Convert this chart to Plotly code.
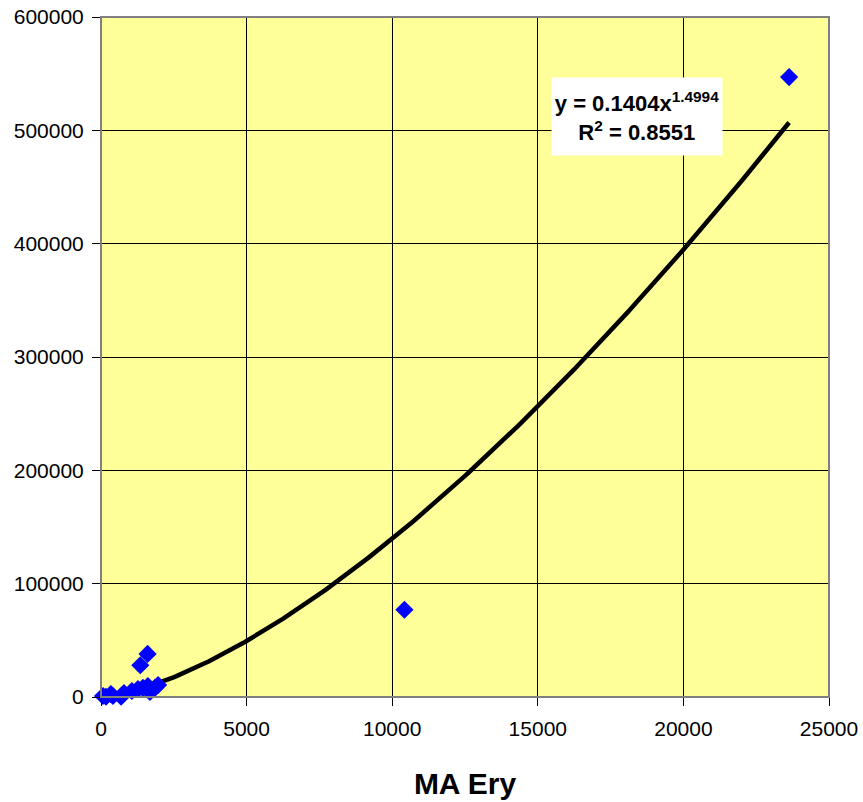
import numpy as np
import plotly.graph_objects as go

# Observations: MA Ery vs response
ma_ery = [70, 170, 340, 410, 690, 790, 1060, 1270, 1440, 1610, 1680, 1850, 1960,
          1350, 1600, 10420, 23630]
response = [900, 200, 2600, 900, 300, 3500, 5300, 7000, 8000, 9700, 4400, 8000, 10600,
            28000, 38000, 77000, 547000]

# Power trendline parameters
coef_a = 0.1404
coef_b = 1.4994
r_squared = 0.8551

x_ticks = [0, 5000, 10000, 15000, 20000, 25000]
y_ticks = [0, 100000, 200000, 300000, 400000, 500000, 600000]

xs = np.linspace(min(ma_ery), max(ma_ery), 300)
ys = coef_a * xs ** coef_b

fig = go.Figure()
fig.add_trace(go.Scatter(
    x=xs, y=ys, mode="lines",
    line=dict(color="black", width=4.5),
    hoverinfo="skip", showlegend=False,
))
fig.add_trace(go.Scatter(
    x=ma_ery, y=response, mode="markers",
    marker=dict(symbol="diamond", size=14, color="#0000FF", line=dict(width=0)),
    showlegend=False, cliponaxis=False,
))

fig.add_annotation(
    x=0.736, y=0.854, xref="paper", yref="paper",
    xanchor="center", yanchor="middle",
    text=f"y = {coef_a}x<sup>{coef_b}</sup><br>R<sup>2</sup> = {r_squared}",
    showarrow=False, align="center",
    font=dict(family="Arial, Liberation Sans", size=22, color="black", weight="bold"),
    bgcolor="white", borderpad=0, width=170, height=77,
)

axis_font = dict(family="Arial, Liberation Sans", size=21, color="black")
fig.update_layout(
    width=863, height=802,
    margin=dict(l=101, r=34, t=17, b=105),
    paper_bgcolor="white",
    plot_bgcolor="#FFFF99",
    font=axis_font,
    xaxis=dict(
        range=[0, 25000], tickvals=x_ticks, ticktext=[str(v) for v in x_ticks],
        showgrid=True, gridcolor="black", gridwidth=1, automargin=False,
        zeroline=False, showline=True, linecolor="black", linewidth=1, mirror=False,
        ticks="outside", ticklen=8, tickcolor="black", tickfont=axis_font,
        ticklabelstandoff=5,
        title=dict(text="<b>MA Ery</b>", font=dict(family="Arial, Liberation Sans", size=30, color="black"),
                   standoff=33),
    ),
    yaxis=dict(
        range=[0, 600000], tickvals=y_ticks, ticktext=[str(v) for v in y_ticks],
        showgrid=True, gridcolor="black", gridwidth=1, automargin=False,
        zeroline=False, showline=True, linecolor="black", linewidth=1,
        ticks="outside", ticklen=8, tickcolor="black", tickfont=axis_font,
        ticklabelstandoff=4,
    ),
    shapes=[dict(type="rect", xref="paper", yref="paper", x0=0, y0=0, x1=1, y1=1,
                 line=dict(color="#808080", width=2), layer="above")],
)

fig.write_html("out.html")
